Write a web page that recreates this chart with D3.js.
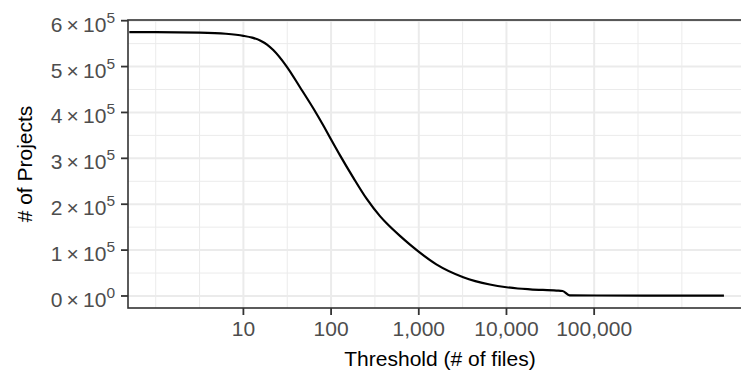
<!DOCTYPE html>
<html>
<head>
<meta charset="utf-8">
<script src="https://cdn.jsdelivr.net/npm/d3@7/dist/d3.min.js"></script>
<style>
  body { margin: 0; background: #fff; }
  svg { display: block; font-family: "Liberation Sans", Arial, Helvetica, sans-serif; }
</style>
</head>
<body>
<svg id="chart" width="741" height="373"></svg>
<script>
// threshold (# of files) and # of projects left
const thresholds = [0.5, 1, 3.16, 6.3, 10, 12.6, 15.5, 18.6, 21.9, 30.9, 44.2, 63.1, 81.3, 100, 126, 179, 254, 361, 427, 610, 794, 1585, 3214, 6457, 10000, 13490, 18620, 37154, 43652, 52480, 107152, 1000000, 3020000];
const projects = [575000, 575000, 574000, 571500, 567000, 563000, 557000, 548000, 536000, 501000, 455000, 408000, 372000, 341000, 307000, 258000, 212000, 174000, 159000, 131000, 112000, 69000, 41000, 25000, 19000, 16300, 14500, 11800, 10900, 1500, 1000, 800, 700];

const xBreaks = [10, 100, 1000, 10000, 100000];
const xMinor = [1, 3.1623, 31.623, 316.23, 3162.3, 31623, 316228, 1000000];
const yBreaks = [0, 1, 2, 3, 4, 5, 6];   // mantissa of n x 10^5
const yMinor = [50000, 150000, 250000, 350000, 450000, 550000];

const width = 741, height = 373;
const panel = {left: 128, top: 20, right: 752, bottom: 308};
const gridCol = "#ebebeb", inkCol = "#333333", labelCol = "#4d4d4d";
const fontSize = 21;

const svg = d3.select("#chart");

let x = d3.scaleLog()
  .domain([Math.pow(10, -0.316), Math.pow(10, 6.80)])
  .range([panel.left, panel.right]);

let y = d3.scaleLinear()
  .domain([-26200, 601500])
  .range([panel.bottom, panel.top]);

svg.append("rect")
  .attr("width", width).attr("height", height).attr("fill", "#fff");

svg.append("clipPath").attr("id", "clip")
  .append("rect")
  .attr("x", panel.left).attr("y", panel.top)
  .attr("width", panel.right - panel.left).attr("height", panel.bottom - panel.top);

const grid = svg.append("g").attr("clip-path", "url(#clip)");

// minor grid first, major on top
grid.selectAll(".xminor").data(xMinor).enter().append("line")
  .attr("x1", d => x(d)).attr("x2", d => x(d))
  .attr("y1", panel.top).attr("y2", panel.bottom)
  .attr("stroke", gridCol).attr("stroke-width", 1);

grid.selectAll(".yminor").data(yMinor).enter().append("line")
  .attr("x1", panel.left).attr("x2", panel.right)
  .attr("y1", d => y(d)).attr("y2", d => y(d))
  .attr("stroke", gridCol).attr("stroke-width", 1);

grid.selectAll(".xmajor").data(xBreaks).enter().append("line")
  .attr("x1", d => x(d)).attr("x2", d => x(d))
  .attr("y1", panel.top).attr("y2", panel.bottom)
  .attr("stroke", gridCol).attr("stroke-width", 2);

grid.selectAll(".ymajor").data(yBreaks).enter().append("line")
  .attr("x1", panel.left).attr("x2", panel.right)
  .attr("y1", d => y(d * 1e5)).attr("y2", d => y(d * 1e5))
  .attr("stroke", gridCol).attr("stroke-width", 2);

// the curve
const points = thresholds.map((t, i) => [t, projects[i]]);
const line = d3.line()
  .x(d => x(d[0]))
  .y(d => y(d[1]))
  .curve(d3.curveMonotoneX);

grid.append("path")
  .datum(points)
  .attr("d", line)
  .attr("fill", "none")
  .attr("stroke", "#000")
  .attr("stroke-width", 2.2)
  .attr("stroke-linejoin", "round");

// panel border (right side falls outside the picture)
svg.append("rect")
  .attr("x", panel.left).attr("y", panel.top)
  .attr("width", panel.right - panel.left).attr("height", panel.bottom - panel.top)
  .attr("fill", "none").attr("stroke", inkCol).attr("stroke-width", 1.6);

// y ticks and labels like "3×10^5"
svg.selectAll(".ytick").data(yBreaks).enter().append("line")
  .attr("x1", panel.left - 7).attr("x2", panel.left)
  .attr("y1", d => y(d * 1e5)).attr("y2", d => y(d * 1e5))
  .attr("stroke", inkCol).attr("stroke-width", 1.8);

const ylab = svg.selectAll(".ylab").data(yBreaks).enter().append("text")
  .attr("x", 115)
  .attr("y", d => y(d * 1e5) + 11)
  .attr("text-anchor", "end")
  .attr("fill", labelCol)
  .style("font-size", fontSize + "px");
ylab.append("tspan").text(d => d + "\u2009\u00d7\u200910");
ylab.append("tspan")
  .attr("dy", -9)
  .style("font-size", "15.5px")
  .text(d => d === 0 ? "0" : "5");

// x ticks and labels
svg.selectAll(".xtick").data(xBreaks).enter().append("line")
  .attr("x1", d => x(d)).attr("x2", d => x(d))
  .attr("y1", panel.bottom).attr("y2", panel.bottom + 7)
  .attr("stroke", inkCol).attr("stroke-width", 1.8);

svg.selectAll(".xlab").data(xBreaks).enter().append("text")
  .attr("x", d => x(d))
  .attr("y", 336)
  .attr("text-anchor", "middle")
  .attr("fill", labelCol)
  .style("font-size", fontSize + "px")
  .text(d => d3.format(",")(d));

// axis titles
svg.append("text")
  .attr("x", (panel.left + panel.right) / 2)
  .attr("y", 366)
  .attr("text-anchor", "middle")
  .attr("fill", "#000")
  .style("font-size", fontSize + "px")
  .text("Threshold (# of files)");

svg.append("text")
  .attr("transform", "translate(32," + ((panel.top + panel.bottom) / 2) + ") rotate(-90)")
  .attr("text-anchor", "middle")
  .attr("fill", "#000")
  .style("font-size", fontSize + "px")
  .text("# of Projects");
</script>
</body>
</html>
